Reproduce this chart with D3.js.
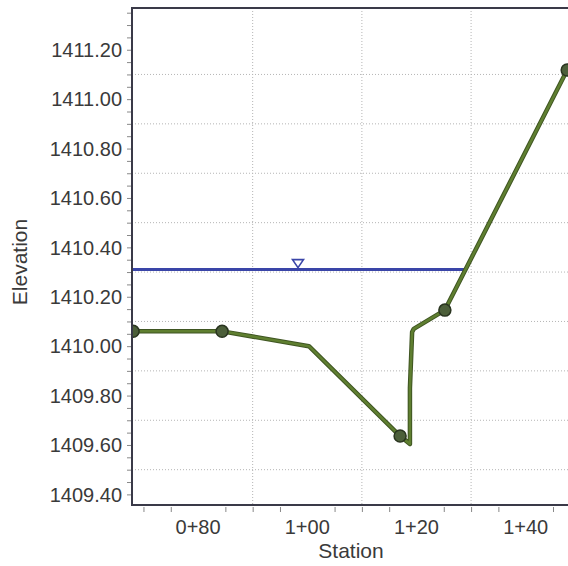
<!DOCTYPE html>
<html><head><meta charset="utf-8">
<script src="https://cdn.jsdelivr.net/npm/d3@7"></script>
<style>body{margin:0;background:#fff}svg{display:block}</style>
</head><body>
<svg id="c" width="568" height="566"></svg>
<script>
// ---- data ----
const groundStation = [68.1, 84.4, 100.3, 117.0, 118.8, 118.8, 119.2, 119.5, 125.2, 147.6];
const groundElev    = [1410.06, 1410.06, 1410.00, 1409.636, 1409.604, 1409.83, 1410.057, 1410.07, 1410.146, 1411.118];
const groundMarker  = [1, 1, 0, 1, 0, 0, 0, 0, 1, 1];
const waterSurface  = 1410.31;
const waterStart    = 68.0;
const wsMarkerStation = 98.3;
const xTickLabels = [80, 100, 120, 140];
const xGridValues = [90, 110, 130];
const yTickLabels = [1409.40, 1409.60, 1409.80, 1410.00, 1410.20, 1410.40, 1410.60, 1410.80, 1411.00, 1411.20];
const yGridValues = [1409.5, 1409.7, 1409.9, 1410.1, 1410.3, 1410.5, 1410.7, 1410.9, 1411.1];
const xTitle = "Station", yTitle = "Elevation";

// ---- layout ----
const L = 132, T = 8, B = 505, R = 568;
const x = d3.scaleLinear().domain([67.9, 147.75]).range([L, R]);
const y = d3.scaleLinear().domain([1409.357, 1411.369]).range([B, T]);
const svg = d3.select("#c");
const font = "'Liberation Sans', Arial, sans-serif";
const txt = "#3a3a3a";

const fmtSta = s => Math.floor(s / 100) + "+" + String(Math.round(s % 100)).padStart(2, "0");

svg.append("defs").append("clipPath").attr("id", "pc")
  .append("rect").attr("x", L).attr("y", T).attr("width", R - L).attr("height", B - T);

// grid
const g = svg.append("g");
g.selectAll(".vg").data(xGridValues).join("line")
  .attr("x1", d => x(d)).attr("x2", d => x(d)).attr("y1", T).attr("y2", B)
  .attr("stroke", "#b5b5b5").attr("stroke-width", 1).attr("stroke-dasharray", "1,2");
g.selectAll(".hg").data(yGridValues).join("line")
  .attr("x1", L).attr("x2", R).attr("y1", d => y(d)).attr("y2", d => y(d))
  .attr("stroke", "#b5b5b5").attr("stroke-width", 1).attr("stroke-dasharray", "1,2");

// axes
const xTicksMinor = d3.range(70, 148, 5).filter(v => v % 20 !== 0);
const xAxis = d3.axisBottom(x).tickValues(xTicksMinor).tickSize(5).tickFormat("");
svg.append("g").attr("transform", `translate(0,${B + 2})`).call(xAxis)
  .call(a => a.select(".domain").remove())
  .call(a => a.selectAll("line").attr("stroke", "#888"));
svg.append("g").selectAll("text").data(xTickLabels).join("text")
  .attr("x", d => x(d)).attr("y", 534).attr("text-anchor", "middle")
  .attr("font-family", font).attr("font-size", 20).attr("fill", txt).text(fmtSta);

const yTicks = d3.range(0, 41).map(i => 1409.35 + i * 0.05).filter(v => v <= 1411.37 && v >= 1409.357);
const yAxis = d3.axisLeft(y).tickValues(yTicks).tickSize(4).tickFormat("");
svg.append("g").attr("transform", `translate(${L - 1},0)`).call(yAxis)
  .call(a => a.select(".domain").remove())
  .call(a => a.selectAll("line").attr("stroke", "#888"));
svg.append("g").selectAll("text").data(yTickLabels).join("text")
  .attr("x", 122).attr("y", d => y(d)).attr("dy", "0.36em").attr("text-anchor", "end")
  .attr("font-family", font).attr("font-size", 20).attr("fill", txt).text(d => d.toFixed(2));

svg.append("text").attr("x", 351).attr("y", 558).attr("text-anchor", "middle")
  .attr("font-family", font).attr("font-size", 21).attr("fill", txt).text(xTitle);
svg.append("text").attr("transform", "translate(27,262) rotate(-90)").attr("text-anchor", "middle")
  .attr("font-family", font).attr("font-size", 21).attr("fill", txt).text(yTitle);

// plot content
const pc = svg.append("g").attr("clip-path", "url(#pc)");
const ground = groundStation.map((s, i) => ({ s, e: groundElev[i], m: groundMarker[i] }));

// water surface end: intersection with ground on right bank
let wsEnd = groundStation[groundStation.length - 1];
for (let i = groundStation.length - 2; i >= 0; i--) {
  const a = ground[i], b = ground[i + 1];
  if ((a.e - waterSurface) * (b.e - waterSurface) <= 0 && b.e !== a.e) {
    wsEnd = a.s + (waterSurface - a.e) / (b.e - a.e) * (b.s - a.s); break;
  }
}
pc.append("line").attr("x1", x(waterStart)).attr("x2", x(wsEnd))
  .attr("y1", y(waterSurface)).attr("y2", y(waterSurface))
  .attr("stroke", "#3a45a8").attr("stroke-width", 3);
const tx = x(wsMarkerStation), ty = y(waterSurface) - 2;
pc.append("path").attr("d", `M${tx - 5.5},${ty - 8}L${tx + 5.5},${ty - 8}L${tx},${ty}Z`)
  .attr("fill", "#fff").attr("stroke", "#3a45a8").attr("stroke-width", 1.6);

const line = d3.line().x(d => x(d.s)).y(d => y(d.e));
pc.append("path").datum(ground).attr("d", line).attr("fill", "none")
  .attr("stroke", "#3f5522").attr("stroke-width", 4.5).attr("stroke-linejoin", "round");
pc.append("path").datum(ground).attr("d", line).attr("fill", "none")
  .attr("stroke", "#5f7f30").attr("stroke-width", 2.5).attr("stroke-linejoin", "round");
pc.selectAll("circle").data(ground.filter(d => d.m)).join("circle")
  .attr("cx", d => x(d.s)).attr("cy", d => y(d.e)).attr("r", 6)
  .attr("fill", "#4c5f3a").attr("stroke", "#2a3520").attr("stroke-width", 1.5);

// frame: left, top, bottom
svg.append("path").attr("d", `M${R},${T}L${L},${T}L${L},${B}L${R},${B}`)
  .attr("fill", "none").attr("stroke", "#3a3a48").attr("stroke-width", 2);
</script>
</body></html>
